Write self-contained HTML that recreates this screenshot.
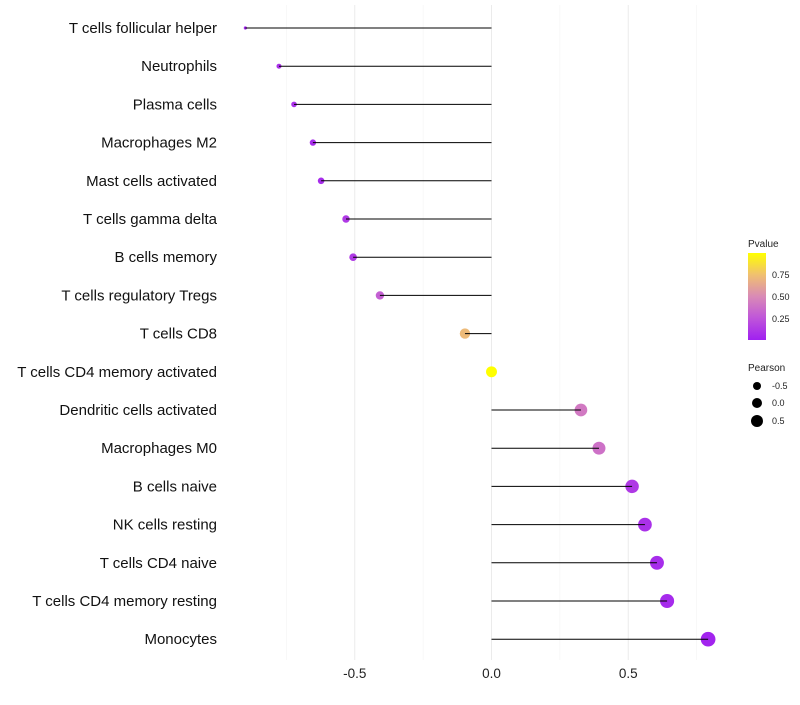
<!DOCTYPE html>
<html><head><meta charset="utf-8"><style>
body{margin:0;background:#fff;font-family:"Liberation Sans",sans-serif}
</style></head><body>
<svg id="chart" width="800" height="700" xmlns="http://www.w3.org/2000/svg">
<defs><linearGradient id="pg" x1="0" y1="1" x2="0" y2="0">
<stop offset="0" stop-color="#a020f0"/><stop offset="0.25" stop-color="#bf55da"/><stop offset="0.5" stop-color="#d98ab6"/><stop offset="0.75" stop-color="#f0c070"/><stop offset="1" stop-color="#ffff00"/>
</linearGradient></defs>
<g id="grid"></g><g id="marks"></g><g id="labels"></g>
<g font-size="9" fill="#222">
<text x="748" y="247" font-size="10">Pvalue</text>
<rect x="748" y="253" width="18" height="87" fill="url(#pg)"/>
<text x="772" y="278">0.75</text><text x="772" y="300">0.50</text><text x="772" y="322">0.25</text>
</g>
<g font-size="9" fill="#222">
<text x="748" y="371" font-size="10">Pearson</text>
<circle cx="757" cy="386" r="4" fill="#000"/><text x="772" y="389">-0.5</text>
<circle cx="757" cy="403" r="5" fill="#000"/><text x="772" y="406">0.0</text>
<circle cx="757" cy="421" r="6" fill="#000"/><text x="772" y="424">0.5</text>
</g>
</svg>
<script>
const categories=["T cells follicular helper","Neutrophils","Plasma cells","Macrophages M2","Mast cells activated","T cells gamma delta","B cells memory","T cells regulatory  Tregs","T cells CD8","T cells CD4 memory activated","Dendritic cells activated","Macrophages M0","B cells naive","NK cells resting","T cells CD4 naive","T cells CD4 memory resting","Monocytes"];
const pearson=[-0.90,-0.777,-0.722,-0.653,-0.623,-0.532,-0.506,-0.408,-0.097,0,0.327,0.393,0.514,0.561,0.605,0.642,0.792];
const pvalues=[0.02,0.08,0.08,0.06,0.06,0.12,0.12,0.3,0.72,1.0,0.42,0.38,0.12,0.08,0.06,0.05,0.02];
const xTicks=[-0.5,0,0.5];
const xTickLabels=["-0.5","0.0","0.5"];
const minorTicks=[-0.75,-0.25,0.25,0.75];
const NS="http://www.w3.org/2000/svg";
const x=v=>491.5+v*273.5;
const y=i=>28+i*38.2;
const r=v=>Math.sqrt(Math.max(1.5,27.2+27.7*v))*1.05;
const stops=[[0,[160,32,240]],[0.25,[191,85,218]],[0.5,[217,138,182]],[0.75,[240,192,112]],[1,[255,255,0]]];
function col(p){for(let k=0;k<stops.length-1;k++){const a=stops[k],b=stops[k+1];if(p<=b[0]){const t=(p-a[0])/(b[0]-a[0]);return "rgb("+a[1].map((c,j)=>Math.round(c+(b[1][j]-c)*t)).join(",")+")";}}return "rgb(255,255,0)";}
function mk(t,attrs,parent){const e=document.createElementNS(NS,t);for(const k in attrs)e.setAttribute(k,attrs[k]);parent.appendChild(e);return e;}
const grid=document.getElementById('grid'),marks=document.getElementById('marks'),labels=document.getElementById('labels');
minorTicks.forEach(v=>{const l=mk('line',{x1:x(v),x2:x(v),y1:5,y2:660,stroke:"#f4f4f4","stroke-width":0.6},grid);

});
xTicks.forEach((v,i)=>{const l=mk('line',{x1:x(v),x2:x(v),y1:5,y2:660,stroke:"#ebebeb","stroke-width":1},grid);


const t=mk('text',{x:x(v),y:678,"text-anchor":"middle","font-size":13.5,fill:"#222"},labels);t.textContent=xTickLabels[i];

});
categories.forEach((c,i)=>{
const t=mk('text',{x:217,y:y(i)+5,"text-anchor":"end","font-size":15,fill:"#111"},labels);t.textContent=c;


const d=mk('circle',{cx:x(pearson[i]),cy:y(i),r:r(pearson[i]),fill:col(pvalues[i])},marks);


const l=mk('line',{x1:x(0),x2:x(pearson[i]),y1:y(i),y2:y(i),stroke:"#000","stroke-width":1},marks);


});
</script>
</body></html>
